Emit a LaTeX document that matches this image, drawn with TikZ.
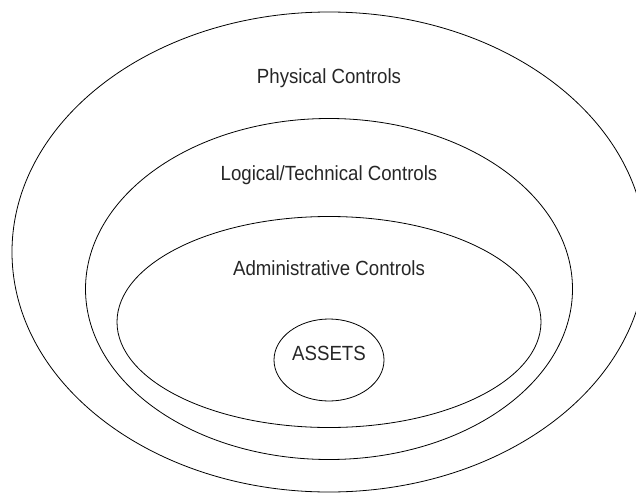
\documentclass[tikz,border=0pt]{standalone}
\usepackage{fontspec}
\setmainfont{Liberation Sans}[FakeStretch=0.91]
\usepackage{tikz}
\usetikzlibrary{shapes.geometric,positioning}

\begin{document}
\begin{tikzpicture}[x=1pt, y=-1pt,
  layer/.style = {shape=ellipse, draw, line width=0.8pt, inner sep=0pt},
  caption/.style = {font=\fontsize{20.5}{24}\selectfont, text=black!85, anchor=base}]
  \useasboundingbox (0,0) rectangle (636,492);
  % rings, outside in
  \node[layer, minimum width=634pt, minimum height=480pt] (physical) at (329,252) {};
  \node[layer, minimum width=487pt, minimum height=341pt] (logical) at (329,289) {};
  \node[layer, minimum width=424pt, minimum height=211pt] (admin) at (329,322) {};
  \node[layer, minimum width=110pt, minimum height=82pt] (assets) at (329,360) {};
  % captions (placed by their baselines)
  \node[caption] (physicalcap) at (329,84) {Physical Controls};
  \node[caption] (logicalcap) at (329,180) {Logical/Technical Controls};
  \node[caption] (admincap) at (329,275) {Administrative Controls};
  \node[caption] (assetscap) at (329,360.5) {ASSETS};
\end{tikzpicture}
\end{document}
